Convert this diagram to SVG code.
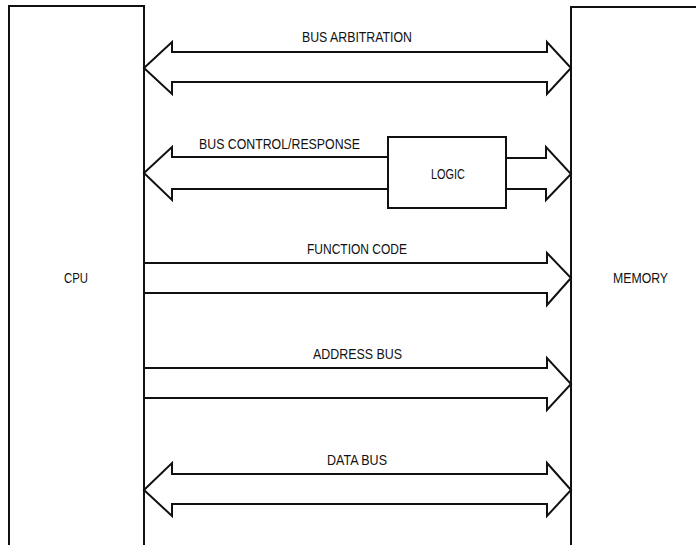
<svg xmlns="http://www.w3.org/2000/svg" width="696" height="545" viewBox="0 0 696 545">
  <style>
    .ln { fill: none; stroke: #111; stroke-width: 2; stroke-linejoin: miter; }
    .bus { fill: none; stroke: #111; stroke-width: 2; stroke-linejoin: miter; }
    .lbl { font-family: "Liberation Sans", Arial, sans-serif; font-size: 15px; fill: #111; }
  </style>
  <rect width="696" height="545" fill="#fff"/>

  <!-- wide bus arrows -->
  <g id="connectors">
    <polygon class="bus" points="144,68 172,42 172,52 547,52 547,42 571,68 547,94 547,82 172,82 172,94"/>
    <polyline class="bus" points="388,157 172,157 172,147 144,173 172,200 172,189 388,189"/>
    <polyline class="bus" points="506,158 546,158 546,147 571,174 546,200 546,189 506,189"/>
    <polyline class="bus" points="144,263 547,263 547,253 571,278 547,305 547,293 144,293"/>
    <polyline class="bus" points="144,368 547,368 547,358 571,384 547,410 547,398 144,398"/>
    <polygon class="bus" points="144,490 172,463 172,474 547,474 547,463 571,490 547,516 547,504 172,504 172,516"/>
  </g>

  <!-- processor block (open at the bottom edge) -->
  <g id="cpu">
    <path class="ln" d="M9,545 V6 H144 V545"/>
    <text class="lbl" x="64" y="283" textLength="24" lengthAdjust="spacingAndGlyphs">CPU</text>
  </g>

  <!-- memory block (open at the right and bottom edges) -->
  <g id="memory">
    <path class="ln" d="M571,545 V7 H696"/>
    <text class="lbl" x="613" y="283" textLength="55" lengthAdjust="spacingAndGlyphs">MEMORY</text>
  </g>

  <!-- logic block on the control/response path -->
  <g id="logic">
    <rect class="ln" x="388" y="137" width="118" height="71"/>
    <text class="lbl" x="431" y="179" textLength="34" lengthAdjust="spacingAndGlyphs">LOGIC</text>
  </g>

  <!-- bus labels -->
  <g id="labels">
    <text class="lbl" x="302" y="42" textLength="110" lengthAdjust="spacingAndGlyphs">BUS ARBITRATION</text>
    <text class="lbl" x="199" y="149" textLength="161" lengthAdjust="spacingAndGlyphs">BUS CONTROL/RESPONSE</text>
    <text class="lbl" x="307" y="254" textLength="100" lengthAdjust="spacingAndGlyphs">FUNCTION CODE</text>
    <text class="lbl" x="313" y="359" textLength="89" lengthAdjust="spacingAndGlyphs">ADDRESS BUS</text>
    <text class="lbl" x="327" y="465" textLength="60" lengthAdjust="spacingAndGlyphs">DATA BUS</text>
  </g>
</svg>
